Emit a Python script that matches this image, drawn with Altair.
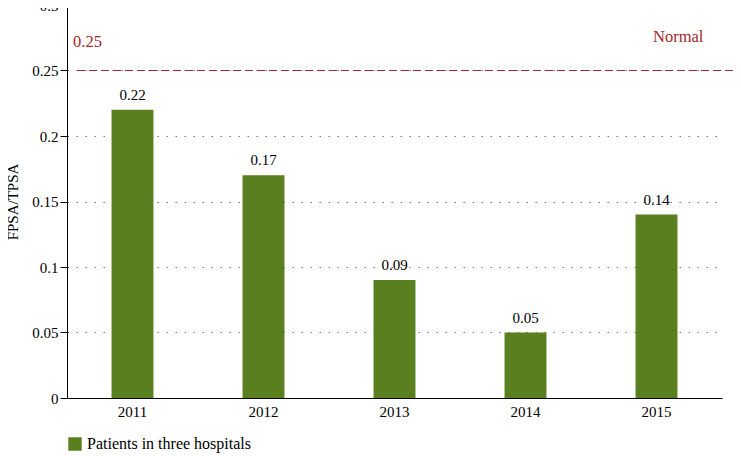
import altair as alt
import pandas as pd

years = ["2011", "2012", "2013", "2014", "2015"]
values = [0.22, 0.17, 0.09, 0.05, 0.14]
series_name = "Patients in three hospitals"
normal_value = 0.25
y_ticks = [0, 0.05, 0.1, 0.15, 0.2, 0.25, 0.3]

FONT = "Liberation Serif"
GREEN = "#5a7f1e"
RED = "#a3282c"

df = pd.DataFrame({"year": years, "value": values, "series": [series_name] * len(years)})

W, H = 655, 393

x = alt.X("year:N", title=None,
          scale=alt.Scale(paddingInner=0.68, paddingOuter=0.34),
          axis=alt.Axis(labelAngle=0, ticks=False, domain=True, domainColor="black",
                        labelFont=FONT, labelFontSize=15, labelColor="black", labelPadding=6,
                        grid=False))
y = alt.Y("value:Q", title="FPSA/TPSA",
          scale=alt.Scale(domain=[0, 0.3], nice=False),
          axis=alt.Axis(values=y_ticks, format="~g", labelFont=FONT, labelFontSize=15,
                        labelColor="black", tickColor="black", tickSize=7,
                        domainColor="black", grid=True, gridColor="#777",
                        gridDash=[1.5, 7.5], gridWidth=1.2,
                        titleFont=FONT, titleFontSize=15, titleFontWeight="normal",
                        titleColor="black", titlePadding=11))

bars = alt.Chart(df).mark_bar(color=GREEN).encode(
    x=x, y=y,
    color=alt.Color("series:N", scale=alt.Scale(range=[GREEN]),
                    legend=alt.Legend(title=None, orient="none", legendX=0, legendY=431,
                                      symbolType="square", symbolSize=180,
                                      symbolStrokeWidth=0, labelLimit=400,
                                      labelFont=FONT, labelFontSize=16, labelColor="black")),
)

labels = alt.Chart(df).mark_text(font=FONT, fontSize=15, dy=-15, color="black").encode(
    x="year:N", y="value:Q", text=alt.Text("value:Q", format="~g"))

ref = alt.Chart(pd.DataFrame({"v": [normal_value]})).mark_rule(
    color=RED, strokeDash=[8, 4], strokeWidth=1.2).encode(
    y="v:Q", x=alt.value(10), x2=alt.value(674))

ann = pd.DataFrame({"t": ["0.25", "Normal"], "yv": [0.2718, 0.2756], "xp": [6, 586]})
ann_text = alt.Chart(ann).mark_text(font=FONT, fontSize=16.5, color=RED, align="left").encode(
    y="yv:Q", x=alt.X("xp:Q", scale=None), text="t:N")

chart = alt.layer(bars, ref, labels, ann_text).properties(
    width=W, height=H,
    autosize=alt.AutoSizeParams(type="none"),
    padding={"left": 59, "top": -3, "right": 11, "bottom": 55},
).configure_view(stroke=None)

chart.save("out.html", embed_options={"renderer": "svg", "actions": False})
